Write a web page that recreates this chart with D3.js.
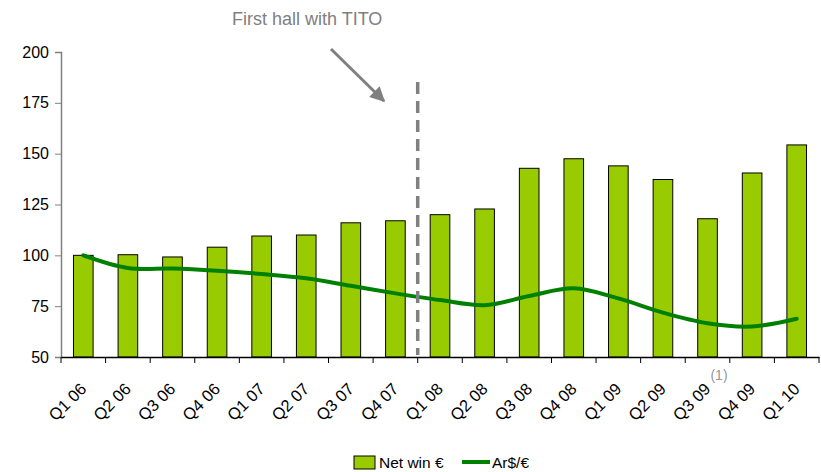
<!DOCTYPE html>
<html><head><meta charset="utf-8">
<script src="https://cdn.jsdelivr.net/npm/d3@7/dist/d3.min.js"></script>
<style>body{margin:0;background:#fff}svg{display:block}</style>
</head><body>
<script>
const categories = ["Q1 06","Q2 06","Q3 06","Q4 06","Q1 07","Q2 07","Q3 07","Q4 07","Q1 08","Q2 08","Q3 08","Q4 08","Q1 09","Q2 09","Q3 09","Q4 09","Q1 10"];
const netWin = [100,100.3,99.2,104,109.5,110,116,117,120,122.8,142.8,147.5,144,137.3,118,140.5,154.3];
const arsEur = [100,93.8,93.5,92.4,90.8,88.7,85,81.3,78,75.5,80,83.8,78.8,71.8,66.6,65,68.8];
const yTicks = [50,75,100,125,150,175,200];
const seriesNames = ["Net win €","Ar$/€"];
const annotation = "First hall with TITO";
const footnote = "(1)";

const W = 821, H = 472;
const svg = d3.select("body").append("svg").attr("width", W).attr("height", H);
const x = d3.scaleBand().domain(categories).range([61, 819]).paddingInner(0.56).paddingOuter(0.28);
const xb = d3.scaleBand().domain(categories).range([61, 819]);
const y = d3.scaleLinear().domain([50, 200]).range([357, 52]);
const font = "Liberation Sans, Arial, sans-serif";

// bars
svg.append("g").selectAll("rect").data(categories).join("rect")
  .attr("x", d => x(d)).attr("width", x.bandwidth())
  .attr("y", (d,i) => y(netWin[i])).attr("height", (d,i) => y(50) - y(netWin[i]))
  .attr("fill", "#99CC00").attr("stroke", "#000").attr("stroke-width", 1);

// y axis
const ya = svg.append("g").attr("transform", "translate(61,0)")
  .call(d3.axisLeft(y).tickValues(yTicks).tickSize(6).tickPadding(6));
ya.select(".domain").attr("stroke", "#808080").attr("stroke-width", 1.5);
ya.selectAll(".tick line").attr("stroke", "#808080");
ya.selectAll("text").attr("font-family", font).attr("font-size", 16).attr("fill", "#000");

// x axis
const xa = svg.append("g").attr("transform", "translate(0,357)")
  .call(d3.axisBottom(xb).tickSize(0).tickFormat(() => ""));
xa.select(".domain").attr("stroke", "#000").attr("stroke-width", 1.5);
svg.append("g").selectAll("line").data(d3.range(categories.length + 1)).join("line")
  .attr("x1", i => 61 + i * xb.step()).attr("x2", i => 61 + i * xb.step())
  .attr("y1", 357).attr("y2", 363).attr("stroke", "#000").attr("stroke-width", 1);
svg.append("g").selectAll("text").data(categories).join("text")
  .attr("transform", d => `translate(${xb(d) + xb.bandwidth()/2},386) rotate(-45)`)
  .attr("text-anchor", "end").attr("dy", "0.35em")
  .attr("font-family", font).attr("font-size", 16.5).attr("fill", "#000")
  .text(d => d);

// line
const line = d3.line().x((d,i) => xb(categories[i]) + xb.bandwidth()/2).y(d => y(d)).curve(d3.curveCatmullRom.alpha(0.5));
svg.append("path").datum(arsEur).attr("d", line).attr("fill", "none")
  .attr("stroke", "#008000").attr("stroke-width", 4).attr("stroke-linecap", "round");

// dashed TITO line
const dx = xb("Q1 08");
svg.append("line").attr("x1", dx).attr("x2", dx).attr("y1", 82).attr("y2", 355)
  .attr("stroke", "#808080").attr("stroke-width", 3.5).attr("stroke-dasharray", "12,7");

// annotation
svg.append("text").attr("x", 232).attr("y", 25).attr("font-family", font).attr("font-size", 18)
  .attr("fill", "#808080").text(annotation);
svg.append("defs").append("marker").attr("id", "ah").attr("viewBox", "0 0 10 10")
  .attr("refX", 9).attr("refY", 5).attr("markerWidth", 5).attr("markerHeight", 5)
  .attr("markerUnits", "strokeWidth").attr("orient", "auto")
  .append("path").attr("d", "M0,0 L10,5 L0,10 z").attr("fill", "#808080");
svg.append("line").attr("x1", 331).attr("y1", 49).attr("x2", 384).attr("y2", 101)
  .attr("stroke", "#808080").attr("stroke-width", 3).attr("marker-end", "url(#ah)");

// footnote
svg.append("text").attr("x", 719).attr("y", 380).attr("text-anchor", "middle")
  .attr("font-family", font).attr("font-size", 14).attr("fill", "#999").text(footnote);

// legend
const lg = svg.append("g").attr("font-family", font).attr("font-size", 15.5);
lg.append("rect").attr("x", 354).attr("y", 456).attr("width", 21).attr("height", 13)
  .attr("fill", "#99CC00").attr("stroke", "#000").attr("stroke-width", 1);
lg.append("text").attr("x", 379).attr("y", 468).text(seriesNames[0]);
lg.append("line").attr("x1", 462).attr("x2", 490).attr("y1", 462).attr("y2", 462)
  .attr("stroke", "#008000").attr("stroke-width", 4);
lg.append("text").attr("x", 492).attr("y", 468).text(seriesNames[1]);
</script>
</body></html>
